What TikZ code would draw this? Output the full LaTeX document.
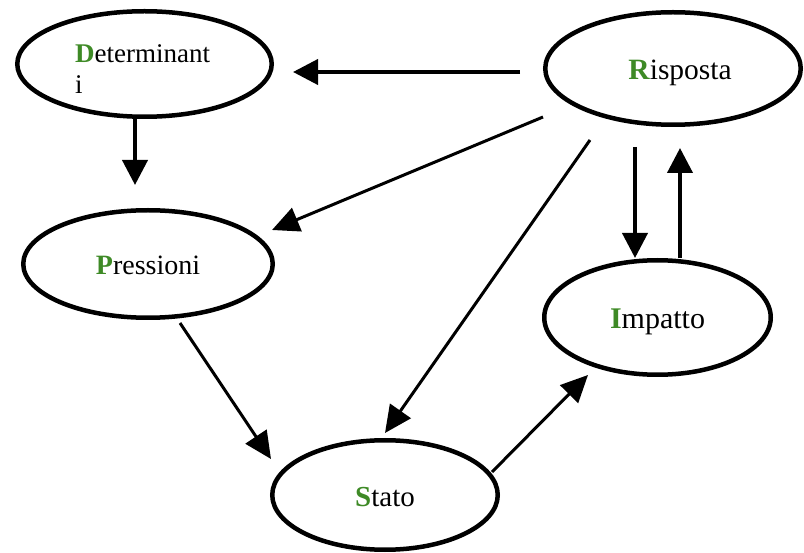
\documentclass[tikz,border=0pt]{standalone}
\usepackage{fontspec}
\setmainfont{Liberation Serif}
\usetikzlibrary{shapes.geometric,arrows.meta}
\definecolor{initgreen}{RGB}{62,138,38}
% bold green initial letter of each stage
\newcommand{\stageinit}[1]{\textcolor{initgreen}{\textbf{#1}}}

\begin{document}
\begin{tikzpicture}[x=1pt,y=-1pt,
  bubble/.style={draw, ellipse, line width=4.5pt, inner sep=0pt,
                 text height=22pt, text depth=0pt},
  heavy/.style={-{Triangle[length=25pt,width=25pt]}, line width=4pt},
  light/.style={-{Triangle[length=27pt,width=25pt]}, line width=3pt}]
\useasboundingbox (0,0) rectangle (804,553);

% stages of the DPSIR chain
\node[bubble, minimum width=254.5pt, minimum height=105.5pt] (D) at (144.5,64) {};
\node[font=\fontsize{27}{31}\selectfont, align=left, anchor=base west, inner sep=0pt]
  (Dtext) at ([xshift=-69.5pt,yshift=-30pt]D.center) {\stageinit{D}eterminant\\i};
\node[bubble, minimum width=249.5pt, minimum height=107.5pt,
      font=\fontsize{28}{32}\selectfont] (P) at (148,264) {\stageinit{P}ressioni};
\node[bubble, minimum width=255.5pt, minimum height=112.5pt,
      font=\fontsize{29.5}{34}\selectfont] (R) at (673,68.5) {\hspace*{14pt}\stageinit{R}isposta};
\node[bubble, minimum width=226.5pt, minimum height=114.5pt,
      font=\fontsize{30}{34}\selectfont] (I) at (657.5,317.5) {\stageinit{I}mpatto};
\node[bubble, minimum width=225.5pt, minimum height=109.5pt,
      font=\fontsize{29}{34}\selectfont] (S) at (385,495) {\stageinit{S}tato};

% links between stages
\draw[heavy] ([xshift=-23pt,yshift=-3.5pt]R.west) -- ([xshift=19pt,yshift=-8pt]D.east);
\draw[heavy] ([xshift=-9.5pt]D.south) -- ([xshift=-13pt,yshift=23pt]P.north);
\draw[light] ([xshift=-130pt,yshift=-48.5pt]R.center) -- ([xshift=124pt,yshift=34pt]P.center);
\draw[light] ([xshift=-83pt,yshift=-71.5pt]R.center) -- ([yshift=5pt]S.north);
\draw[heavy] ([xshift=-38pt,yshift=-78.5pt]R.center) -- ([xshift=-22.5pt,yshift=59.5pt]I.center);
\draw[heavy] ([xshift=22.5pt,yshift=59.5pt]I.center) -- ([xshift=7pt,yshift=-79.5pt]R.center);
\draw[light] ([xshift=32pt,yshift=-59pt]P.center) -- ([xshift=-114pt,yshift=36pt]S.center);
\draw[light] ([xshift=107pt,yshift=23pt]S.center) -- ([xshift=-69.5pt,yshift=-57.5pt]I.center);
\end{tikzpicture}
\end{document}
